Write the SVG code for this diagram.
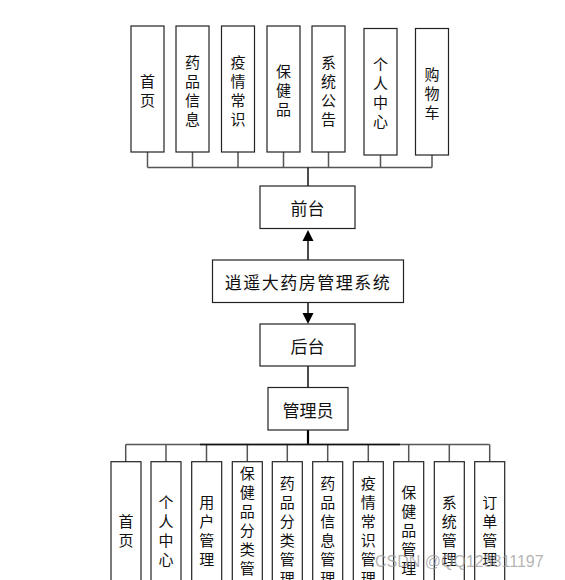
<svg xmlns="http://www.w3.org/2000/svg" width="565" height="580" viewBox="0 0 565 580">
<style>
.box{fill:#ffffff;stroke:#222;stroke-width:1.2}
.t{font-family:"Noto Sans CJK SC","Microsoft YaHei",sans-serif;fill:#111;text-anchor:middle;dominant-baseline:central}
.v{font-size:15px}
.h{font-size:17px}
.bus{fill:none;stroke:#555;stroke-width:1.5}
.main{fill:none;stroke:#111;stroke-width:1.5}
.thick{fill:none;stroke:#000;stroke-width:2.2}
.wm{font-family:"Liberation Sans",Arial,sans-serif;font-size:16px;fill:#9a9a9a;fill-opacity:0.75}
</style>
<rect width="565" height="580" fill="#ffffff"/>
<g id="connectors">
  <path class="bus" d="M147.5,152 V167.5 M192.5,152 V167.5 M238,152 V167.5 M283.5,152 V167.5 M328.5,152 V167.5 M380.5,155 V167.5 M432,155 V167.5 M147.5,167.5 H432"/>
  <path class="main" d="M308,167.5 V186"/>
  <path class="main" d="M308,260 V240"/>
  <polygon points="308,230 302.5,241 313.5,241" fill="#000"/>
  <path class="main" d="M308,302.5 V313"/>
  <polygon points="308,324 302.5,313 313.5,313" fill="#000"/>
  <path class="main" d="M308,366 V387.5"/>
  <path class="thick" d="M308,430 V444.5"/>
  <path class="bus" d="M125.7,444.5 H489.5 M125.7,444.5 V461.7 M166,444.5 V461.7 M206.5,444.5 V461.7 M247.3,444.5 V461.7 M287.3,444.5 V461.7 M327.7,444.5 V461.7 M368.3,444.5 V461.7 M408.7,444.5 V461.7 M449.3,444.5 V461.7 M489.7,444.5 V461.7"/>
  <path d="M200,444.5 H400" stroke="#111" stroke-width="1.5" fill="none"/>
</g>
<g id="n-home-top"><rect class="box" x="131" y="26" width="33" height="126"/><text class="t v" x="147.5" y="89"><tspan x="147.5" dy="-9.5">首</tspan><tspan x="147.5" dy="19">页</tspan></text></g>
<g id="n-druginfo-top"><rect class="box" x="176" y="26" width="33" height="126"/><text class="t v" x="192.5" y="89"><tspan x="192.5" dy="-28.5">药</tspan><tspan x="192.5" dy="19">品</tspan><tspan x="192.5" dy="19">信</tspan><tspan x="192.5" dy="19">息</tspan></text></g>
<g id="n-epidemic-top"><rect class="box" x="221.5" y="26" width="33" height="126"/><text class="t v" x="238" y="89"><tspan x="238" dy="-28.5">疫</tspan><tspan x="238" dy="19">情</tspan><tspan x="238" dy="19">常</tspan><tspan x="238" dy="19">识</tspan></text></g>
<g id="n-health-top"><rect class="box" x="267" y="26" width="33" height="126"/><text class="t v" x="283.5" y="89"><tspan x="283.5" dy="-19">保</tspan><tspan x="283.5" dy="19">健</tspan><tspan x="283.5" dy="19">品</tspan></text></g>
<g id="n-notice-top"><rect class="box" x="312" y="26" width="33" height="126"/><text class="t v" x="328.5" y="89"><tspan x="328.5" dy="-28.5">系</tspan><tspan x="328.5" dy="19">统</tspan><tspan x="328.5" dy="19">公</tspan><tspan x="328.5" dy="19">告</tspan></text></g>
<g id="n-personal-top"><rect class="box" x="364" y="28.5" width="33" height="126.5"/><text class="t v" x="380.5" y="91.5"><tspan x="380.5" dy="-28.5">个</tspan><tspan x="380.5" dy="19">人</tspan><tspan x="380.5" dy="19">中</tspan><tspan x="380.5" dy="19">心</tspan></text></g>
<g id="n-cart-top"><rect class="box" x="415.5" y="28.5" width="33" height="126.5"/><text class="t v" x="432" y="91.5"><tspan x="432" dy="-19">购</tspan><tspan x="432" dy="19">物</tspan><tspan x="432" dy="19">车</tspan></text></g>
<g id="n-front"><rect class="box" x="260" y="186" width="95" height="42.5"/><text class="t h" x="307.5" y="207.5">前台</text></g>
<g id="n-system"><rect class="box" x="212.5" y="260" width="191" height="42.5"/><text class="t h" x="308" y="281.5" letter-spacing="1.5">逍遥大药房管理系统</text></g>
<g id="n-back"><rect class="box" x="260" y="324" width="95" height="42"/><text class="t h" x="307.5" y="345">后台</text></g>
<g id="n-admin"><rect class="box" x="268" y="387.5" width="80" height="42.5"/><text class="t h" x="308" y="409">管理员</text></g>
<g id="n-b-home"><rect class="box" x="111" y="461.7" width="30" height="140"/><text class="t v" x="126" y="529"><tspan x="126" dy="-9.5">首</tspan><tspan x="126" dy="19">页</tspan></text></g>
<g id="n-b-personal"><rect class="box" x="151" y="461.7" width="30" height="140"/><text class="t v" x="166" y="529"><tspan x="166" dy="-28.5">个</tspan><tspan x="166" dy="19">人</tspan><tspan x="166" dy="19">中</tspan><tspan x="166" dy="19">心</tspan></text></g>
<g id="n-b-user"><rect class="box" x="191.7" y="461.7" width="30" height="140"/><text class="t v" x="206.7" y="529"><tspan x="206.7" dy="-28.5">用</tspan><tspan x="206.7" dy="19">户</tspan><tspan x="206.7" dy="19">管</tspan><tspan x="206.7" dy="19">理</tspan></text></g>
<g id="n-b-healthcat"><rect class="box" x="232.3" y="461.7" width="30" height="140"/><text class="t v" x="247.3" y="529"><tspan x="247.3" dy="-57">保</tspan><tspan x="247.3" dy="19">健</tspan><tspan x="247.3" dy="19">品</tspan><tspan x="247.3" dy="19">分</tspan><tspan x="247.3" dy="19">类</tspan><tspan x="247.3" dy="19">管</tspan><tspan x="247.3" dy="19">理</tspan></text></g>
<g id="n-b-drugcat"><rect class="box" x="272.3" y="461.7" width="30" height="140"/><text class="t v" x="287.3" y="529"><tspan x="287.3" dy="-47.5">药</tspan><tspan x="287.3" dy="19">品</tspan><tspan x="287.3" dy="19">分</tspan><tspan x="287.3" dy="19">类</tspan><tspan x="287.3" dy="19">管</tspan><tspan x="287.3" dy="19">理</tspan></text></g>
<g id="n-b-druginfo"><rect class="box" x="312.7" y="461.7" width="30" height="140"/><text class="t v" x="327.7" y="529"><tspan x="327.7" dy="-47.5">药</tspan><tspan x="327.7" dy="19">品</tspan><tspan x="327.7" dy="19">信</tspan><tspan x="327.7" dy="19">息</tspan><tspan x="327.7" dy="19">管</tspan><tspan x="327.7" dy="19">理</tspan></text></g>
<g id="n-b-epidemic"><rect class="box" x="353.3" y="461.7" width="30" height="140"/><text class="t v" x="368.3" y="529"><tspan x="368.3" dy="-47.5">疫</tspan><tspan x="368.3" dy="19">情</tspan><tspan x="368.3" dy="19">常</tspan><tspan x="368.3" dy="19">识</tspan><tspan x="368.3" dy="19">管</tspan><tspan x="368.3" dy="19">理</tspan></text></g>
<g id="n-b-health"><rect class="box" x="393.7" y="461.7" width="30" height="140"/><text class="t v" x="408.7" y="529"><tspan x="408.7" dy="-38">保</tspan><tspan x="408.7" dy="19">健</tspan><tspan x="408.7" dy="19">品</tspan><tspan x="408.7" dy="19">管</tspan><tspan x="408.7" dy="19">理</tspan></text></g>
<g id="n-b-system"><rect class="box" x="434.3" y="461.7" width="30" height="140"/><text class="t v" x="449.3" y="529"><tspan x="449.3" dy="-28.5">系</tspan><tspan x="449.3" dy="19">统</tspan><tspan x="449.3" dy="19">管</tspan><tspan x="449.3" dy="19">理</tspan></text></g>
<g id="n-b-order"><rect class="box" x="474.7" y="461.7" width="30" height="140"/><text class="t v" x="489.7" y="529"><tspan x="489.7" dy="-28.5">订</tspan><tspan x="489.7" dy="19">单</tspan><tspan x="489.7" dy="19">管</tspan><tspan x="489.7" dy="19">理</tspan></text></g>
<text class="wm" x="375" y="567">CSDN @QQ123811197</text>
</svg>
